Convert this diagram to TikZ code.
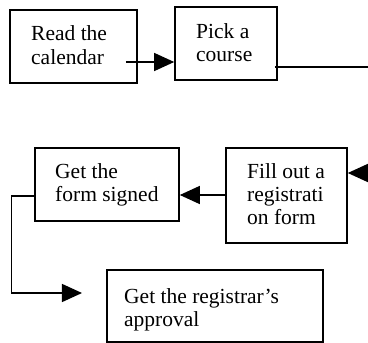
\documentclass[tikz,border=0pt]{standalone}
\usepackage{fontspec}
\setmainfont{Liberation Serif}
\usetikzlibrary{arrows.meta}
\tikzset{
  box/.style={draw=black, line width=1.6pt, fill=white, inner sep=0pt},
  lbl/.style={anchor=base west, inner sep=0pt, text width=220pt, align=flush left,
              font=\fontsize{21.5}{23.5}\selectfont},
  conn/.style={draw=black, line width=1.3pt},
  arr/.style={conn, -{Triangle[length=20pt, width=18pt]}}
}
\begin{document}
\begin{tikzpicture}[x=1pt, y=-1pt]
\useasboundingbox (0,0) rectangle (368,343);
\clip (0,0) rectangle (368,343);
\fill[white] (0,0) rectangle (368,343);
% boxes
\node[box, minimum width=127pt, minimum height=73pt] (b1) at (73.5,46.5) {};
\node[box, minimum width=102pt, minimum height=73pt] (b2) at (226,43.5) {};
\node[box, minimum width=144pt, minimum height=73pt] (b3) at (107,184.5) {};
\node[box, minimum width=121pt, minimum height=95pt] (b4) at (286.5,195.5) {};
\node[box, minimum width=216pt, minimum height=72pt] (b5) at (215,306) {};
% texts
\node[lbl] (t1) at (31,40.5) {Read the\\calendar};
\node[lbl] (t2) at (196,38) {Pick a\\course};
\node[lbl] (t3) at (55,178) {Get the\\form signed};
\node[lbl] (t4) at (247,178) {Fill out a\\registrati\\on form};
\node[lbl] (t5) at (124,303) {Get the registrar’s\\approval};
% connectors
\coordinate (a1s) at (126,62);
\draw[arr] (a1s) -- (a1s -| b2.west);
\coordinate (c2s) at (275,67);
\coordinate (c2e) at (372,67);
\draw[conn] (c2s) -- (c2e);
\coordinate (c3s) at (372,173);
\draw[arr] (c3s) -- (c3s -| b4.east);
\coordinate (c4) at (226,195);
\draw[arr] (c4 -| b4.west) -- (c4 -| b3.east);
\coordinate (c5) at (35,196);
\coordinate (c5a) at (11.5,196);
\coordinate (c5b) at (11.5,293);
\coordinate (c5e) at (82,293);
\draw[arr] (c5 -| b3.west) -- (c5a) -- (c5b) -- (c5e);
\end{tikzpicture}
\end{document}
